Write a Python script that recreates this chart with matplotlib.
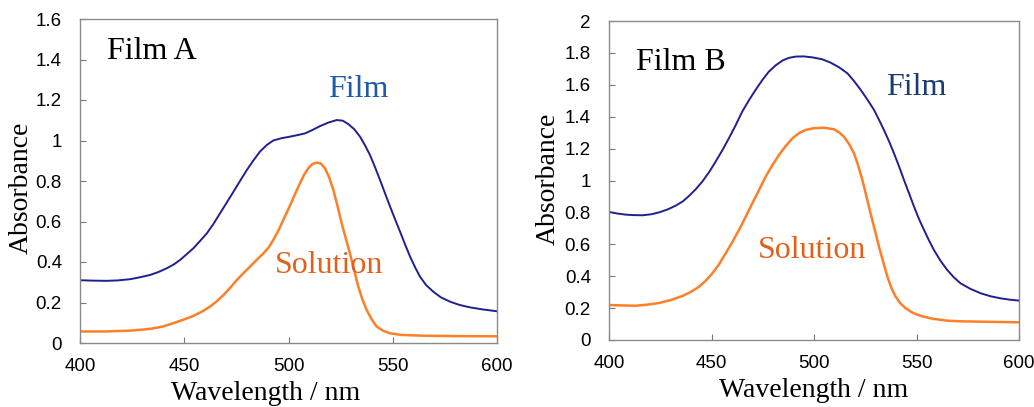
import matplotlib
matplotlib.use("Agg")
import matplotlib.pyplot as plt

# ---- Film A data ----
a_film_wl = [400, 406, 412.8, 418, 424, 428, 433.6, 437.5, 441.6, 445, 448, 451, 454.4, 457.5, 460.8,
             464, 467.2, 470.4, 473.6, 476.8, 480, 483.2, 486.3, 489.5, 492.7, 496.5, 500.7, 504,
             507.9, 511.5, 515.1, 519, 523.1, 526, 528.7, 531.5, 534.3, 536.7, 539.1, 541.5,
             543.9, 546.3, 548.7, 551.1, 553.5, 555.9, 558.3, 560.7, 563.1, 566, 569.5, 573,
             577.5, 582, 587, 593, 599.8]
a_film_abs = [0.31, 0.308, 0.307, 0.309, 0.315, 0.323, 0.336, 0.35, 0.369, 0.388, 0.41, 0.437, 0.468,
              0.503, 0.541, 0.588, 0.641, 0.694, 0.747, 0.801, 0.854, 0.902, 0.945, 0.977, 1.0,
              1.011, 1.019, 1.026, 1.035, 1.052, 1.071, 1.088, 1.101, 1.098, 1.081, 1.056, 1.019,
              0.976, 0.928, 0.868, 0.805, 0.739, 0.674, 0.611, 0.55, 0.487, 0.427, 0.374, 0.327,
              0.286, 0.253, 0.226, 0.204, 0.188, 0.176, 0.166, 0.157]

a_sol_wl = [400, 412, 424, 430, 435, 440, 444.8, 449.6, 454.4, 458.5, 462.4, 465.7, 468.8, 472,
            475.2, 478.4, 481.5, 484.7, 488, 490.5, 492.7, 495.2, 497.5, 500.7, 503.1, 505.5,
            507.5, 509.5, 511.5, 513.5, 515.5, 517.5, 519.5, 521.5, 523.5, 525.5, 527.5, 529.5,
            531.5, 533.5, 535.5, 537.5, 540, 542.3, 545.5, 548.7, 554, 564.7, 580, 599.8]
a_sol_abs = [0.057, 0.057, 0.061, 0.066, 0.072, 0.082, 0.098, 0.115, 0.134, 0.155, 0.18, 0.207,
             0.237, 0.272, 0.311, 0.345, 0.377, 0.41, 0.443, 0.472, 0.509, 0.556, 0.608, 0.678,
             0.735, 0.789, 0.831, 0.863, 0.884, 0.891, 0.886, 0.863, 0.818, 0.756, 0.677, 0.591,
             0.516, 0.442, 0.359, 0.278, 0.213, 0.163, 0.115, 0.081, 0.06, 0.048, 0.04, 0.036,
             0.034, 0.033]

# ---- Film B data ----
b_film_wl = [400, 404, 408.1, 412, 416.3, 420.5, 424.4, 428.5, 432.5, 436, 439, 442.3, 445.5,
             448.8, 452, 455.3, 458.5, 461.8, 465, 468.3, 471.5, 474.8, 478, 481.3, 484.6, 487.8,
             491.1, 495, 499.2, 504, 508.1, 512.2, 516.3, 519.5, 522.8, 526, 529.3, 531.7, 534.1,
             536.6, 539, 541.5, 543.9, 546.4, 548.8, 551.2, 553.7, 556.1, 558.5, 561.7, 565,
             568.2, 571.5, 576.4, 581.3, 586.2, 591.1, 595.5, 600]
b_film_abs = [0.803, 0.793, 0.786, 0.783, 0.782, 0.788, 0.8, 0.818, 0.842, 0.869, 0.903, 0.945,
              0.993, 1.052, 1.118, 1.19, 1.265, 1.347, 1.432, 1.504, 1.568, 1.63, 1.683, 1.722,
              1.752, 1.769, 1.777, 1.778, 1.772, 1.76, 1.739, 1.71, 1.672, 1.624, 1.568, 1.508,
              1.442, 1.381, 1.317, 1.246, 1.171, 1.088, 1.003, 0.918, 0.836, 0.759, 0.689, 0.624,
              0.564, 0.497, 0.439, 0.393, 0.355, 0.32, 0.293, 0.274, 0.261, 0.253, 0.247]

b_sol_wl = [400, 406, 413, 419, 424.4, 430, 435.8, 440, 443.9, 447.2, 450.4, 453.7, 456.9, 460.2,
            463.4, 466.7, 469.9, 473.2, 476.4, 479.7, 482.9, 486.2, 489.4, 492.7, 495.9, 500,
            504.9, 509.8, 512.2, 514.6, 517, 519.5, 521.5, 523.6, 525.6, 527.6, 529.7, 531.7,
            533.8, 535.8, 537.8, 539.8, 542.3, 544.7, 548, 552, 558, 565, 572, 581.3, 590, 600]
b_sol_abs = [0.219, 0.217, 0.215, 0.222, 0.232, 0.25, 0.276, 0.302, 0.334, 0.372, 0.418, 0.475,
             0.543, 0.615, 0.69, 0.773, 0.857, 0.941, 1.024, 1.096, 1.16, 1.216, 1.264, 1.297,
             1.317, 1.328, 1.331, 1.321, 1.302, 1.275, 1.231, 1.171, 1.096, 1.003, 0.899, 0.794,
             0.688, 0.585, 0.488, 0.397, 0.325, 0.272, 0.228, 0.199, 0.172, 0.151, 0.133, 0.121,
             0.117, 0.115, 0.113, 0.111]

a_yticks = [0, 0.2, 0.4, 0.6, 0.8, 1.0, 1.2, 1.4, 1.6]
a_ylabels = ["0", "0.2", "0.4", "0.6", "0.8", "1", "1.2", "1.4", "1.6"]
b_yticks = [0, 0.2, 0.4, 0.6, 0.8, 1.0, 1.2, 1.4, 1.6, 1.8, 2.0]
b_ylabels = ["0", "0.2", "0.4", "0.6", "0.8", "1", "1.2", "1.4", "1.6", "1.8", "2"]
xticks = [400, 450, 500, 550, 600]

FILM_LINE = "#20208f"
SOL_LINE = "#ff7f27"
FILM_TEXT_A = "#1f5ca8"
FILM_TEXT_B = "#1a3d6e"
SOL_TEXT = "#e2611a"
SERIF = ["Liberation Serif", "DejaVu Serif"]
SANS = ["Liberation Sans", "DejaVu Sans"]

W, H = 1034, 407
fig = plt.figure(figsize=(W / 100, H / 100), dpi=100)

def make_ax(l, t, r, b):
    return fig.add_axes([l / W, 1 - b / H, (r - l) / W, (b - t) / H])

axA = make_ax(80, 19, 497, 343)
axB = make_ax(609, 21, 1019, 340)

def style(ax, ymax, yticks, ylabels, xlabel_xy, ylabel_xy):
    ax.set_xlim(400, 600)
    ax.set_ylim(0, ymax)
    ax.set_xticks(xticks)
    ax.set_xticklabels([str(v) for v in xticks], family=SANS, fontsize=13.5)
    ax.set_yticks(yticks)
    ax.set_yticklabels(ylabels, family=SANS, fontsize=13.5)
    ax.tick_params(direction="in", length=4, width=0.8, color="#777777")
    ax.tick_params(axis="y", pad=13)
    ax.tick_params(axis="x", pad=11)
    for s in ax.spines.values():
        s.set_color("#8a8a8a")
        s.set_linewidth(1.0)
    ax.set_xlabel("Wavelength / nm", family=SERIF, fontsize=20)
    ax.xaxis.set_label_coords(*xlabel_xy, transform=ax.transAxes)
    ax.set_ylabel("Absorbance", family=SERIF, fontsize=20)
    ax.yaxis.set_label_coords(*ylabel_xy, transform=ax.transAxes)

axA.plot(a_film_wl, a_film_abs, color=FILM_LINE, lw=1.4)
axA.plot(a_sol_wl, a_sol_abs, color=SOL_LINE, lw=1.8)
style(axA, 1.6, a_yticks, a_ylabels, (0.446, -0.118), (-0.112, 0.48))
axA.text(413, 1.44, "Film A", family=SERIF, fontsize=23, color="black", va="center", ha="left")
axA.text(519, 1.25, "Film", family=SERIF, fontsize=23, color=FILM_TEXT_A, va="center", ha="left")
axA.text(493.5, 0.385, "Solution", family=SERIF, fontsize=23, color=SOL_TEXT, va="center", ha="left")

axB.plot(b_film_wl, b_film_abs, color=FILM_LINE, lw=1.4)
axB.plot(b_sol_wl, b_sol_abs, color=SOL_LINE, lw=1.8)
style(axB, 2.0, b_yticks, b_ylabels, (0.5, -0.118), (-0.118, 0.505))
axB.text(413, 1.737, "Film B", family=SERIF, fontsize=23, color="black", va="center", ha="left")
axB.text(535, 1.586, "Film", family=SERIF, fontsize=23, color=FILM_TEXT_B, va="center", ha="left")
axB.text(472.7, 0.564, "Solution", family=SERIF, fontsize=23, color=SOL_TEXT, va="center", ha="left")

fig.savefig("out.png", dpi=100)
